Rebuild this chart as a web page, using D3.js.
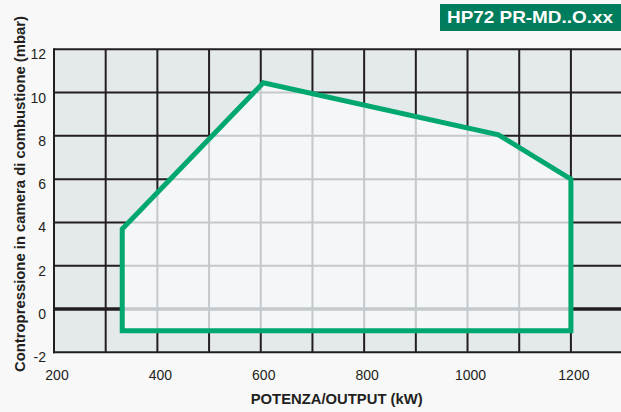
<!DOCTYPE html>
<html><head><meta charset="utf-8">
<script src="https://cdn.jsdelivr.net/npm/d3@7"></script>
<style>body{margin:0;background:#f8f8f8;}svg{display:block;}</style>
</head><body>
<script>
// Data
const title = "HP72 PR-MD..O.xx";
const xLabel = "POTENZA/OUTPUT (kW)";
const yLabel = "Contropressione in camera di combustione (mbar)";
const xTicks = [200, 400, 600, 800, 1000, 1200];
const yTicks = [-2, 0, 2, 4, 6, 8, 10, 12];
const xGrid = [300, 400, 500, 600, 700, 800, 900, 1000, 1100, 1200, 1300];
const yGrid = [0, 2, 4, 6, 8, 10, 12];
const envOutput = [332, 332, 605, 1060, 1200, 1200];
const envPressure = [-1, 3.7, 10.45, 8.05, 6, -1];

const W = 621, H = 412;
const svg = d3.select("body").append("svg").attr("width", W).attr("height", H);
svg.append("rect").attr("width", W).attr("height", H).attr("fill", "#f8f8f8");

const x = d3.scaleLinear().domain([200, 1300]).range([54, 622.6]);
const y = d3.scaleLinear().domain([-2, 12]).range([352.3, 49.3]);

const pts = envOutput.map((v, i) => [x(v), y(envPressure[i])]);
const line = d3.line().curve(d3.curveLinearClosed);

// plot background
svg.append("rect").attr("x", x(200)).attr("y", y(12)).attr("width", x(1300) - x(200)).attr("height", y(-2) - y(12)).attr("fill", "#e4e9ec");

function grid(g, color) {
  g.selectAll(".v").data(xGrid).join("line")
    .attr("x1", d => x(d)).attr("x2", d => x(d)).attr("y1", y(12)).attr("y2", y(-2))
    .attr("stroke", color).attr("stroke-width", 2);
  g.selectAll(".h").data(yGrid).join("line")
    .attr("x1", x(200)).attr("x2", x(1300)).attr("y1", d => y(d)).attr("y2", d => y(d))
    .attr("stroke", color).attr("stroke-width", d => d === 0 ? 3.3 : 2);
}
grid(svg.append("g"), "#231f20");

// envelope fill
svg.append("defs").append("clipPath").attr("id", "env").append("path").attr("d", line(pts));
svg.append("path").attr("d", line(pts)).attr("fill", "#f4f6f8");
grid(svg.append("g").attr("clip-path", "url(#env)"), "#c3c9cc");

// axes borders
svg.append("line").attr("x1", x(200)).attr("x2", x(200)).attr("y1", y(12) - 1).attr("y2", y(-2) + 1).attr("stroke", "#231f20").attr("stroke-width", 2);
svg.append("line").attr("x1", x(200) - 1).attr("x2", x(1300)).attr("y1", y(-2)).attr("y2", y(-2)).attr("stroke", "#231f20").attr("stroke-width", 2);

// envelope stroke
svg.append("path").attr("d", line(pts)).attr("fill", "none").attr("stroke", "#00a870").attr("stroke-width", 5).attr("stroke-linejoin", "miter");

const font = "'Liberation Sans', Arial, Helvetica, sans-serif";

// tick labels
svg.append("g").selectAll("text").data(yTicks).join("text")
  .attr("x", 46).attr("y", d => y(d) + 10).attr("text-anchor", "end")
  .attr("font-family", font).attr("font-size", 14).attr("fill", "#231f20")
  .text(d => d);
svg.append("g").selectAll("text").data(xTicks).join("text")
  .attr("x", d => x(d) + 3).attr("y", 379.5).attr("text-anchor", "middle")
  .attr("font-family", font).attr("font-size", 14).attr("fill", "#231f20")
  .text(d => d);

// axis titles
svg.append("text").attr("x", 336.7).attr("y", 403.5).attr("text-anchor", "middle")
  .attr("font-family", font).attr("font-size", 15).attr("font-weight", "bold").attr("fill", "#231f20")
  .attr("textLength", 172).attr("lengthAdjust", "spacingAndGlyphs")
  .text(xLabel);
svg.append("text").attr("transform", "translate(24.5,194) rotate(-90)").attr("text-anchor", "middle")
  .attr("font-family", font).attr("font-size", 15).attr("font-weight", "bold").attr("fill", "#231f20")
  .attr("textLength", 356).attr("lengthAdjust", "spacingAndGlyphs")
  .text(yLabel);

// title badge
svg.append("rect").attr("x", 440).attr("y", 4).attr("width", 181).attr("height", 27).attr("fill", "#007d5c");
svg.append("text").attr("x", 530).attr("y", 23.3).attr("text-anchor", "middle")
  .attr("font-family", font).attr("font-size", 16.5).attr("font-weight", "bold").attr("fill", "#ffffff")
  .attr("textLength", 166).attr("lengthAdjust", "spacingAndGlyphs")
  .text(title);
</script>
</body></html>
